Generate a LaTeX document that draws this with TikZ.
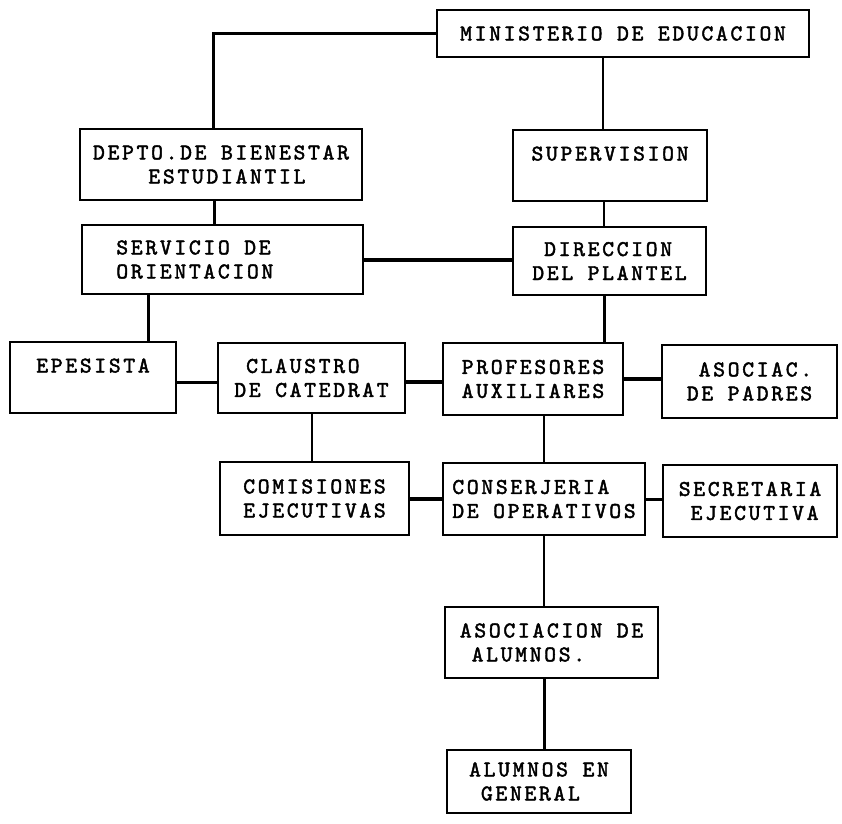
\documentclass[tikz,border=0pt]{standalone}
\usepackage{fontspec}
\newfontfamily\maquina{lmmono10-regular}[Extension=.otf, LetterSpace=12, FakeBold=2]
\begin{document}
\begin{tikzpicture}[x=1pt, y=-1pt,
		caja/.style={draw, line width = 2.2pt, align=left, inner sep=0pt, font=\maquina\fontsize{22.5}{24}\selectfont},
		linea/.style={line width = 2pt},
		media/.style={line width = 3pt},
		gruesa/.style={line width = 4pt}]
		
		\useasboundingbox (0,0) rectangle (842,823);
		
		\node[caja, minimum width=372pt, minimum height=47pt] (ministerio) at (623,33.5) {MINISTERIO DE EDUCACION};
		
		\node[caja, minimum width=282pt, minimum height=71pt] (depto) at (221,164.5) {DEPTO.DE BIENESTAR\\\phantom{DEPT}ESTUDIANTIL};
		\node[caja, minimum width=194pt, minimum height=71pt] (supervision) at (610,165.5) {SUPERVISION\\\mbox{}};
		
		\node[caja, minimum width=281pt, minimum height=69pt] (servicio) at (222.5,259.5) {SERVICIO DE\\ORIENTACION\phantom{XXXX}};
		\node[caja, minimum width=193pt, minimum height=68pt] (direccion) at (609.5,261) {\phantom{D}DIRECCION\\DEL PLANTEL};
		
		\node[caja, minimum width=166pt, minimum height=71pt] (epesista) at (93,377.5) {EPESISTA\\\mbox{}};
		\node[caja, minimum width=187pt, minimum height=70pt] (claustro) at (311.5,378) {\phantom{C}CLAUSTRO\\DE CATEDRAT};
		\node[caja, minimum width=180pt, minimum height=72pt] (profesores) at (533,379) {PROFESORES\\AUXILIARES};
		\node[caja, minimum width=175pt, minimum height=73pt] (padres) at (749.5,381.5) {\phantom{A}ASOCIAC.\\DE PADRES};
		
		\node[caja, minimum width=189pt, minimum height=73pt] (comisiones) at (314.5,498.5) {COMISIONES\\EJECUTIVAS};
		\node[caja, minimum width=202pt, minimum height=72pt] (conserjeria) at (544,499) {CONSERJERIA\\DE OPERATIVOS};
		\node[caja, minimum width=174pt, minimum height=72pt] (secretaria) at (750,501) {SECRETARIA\\\phantom{S}EJECUTIVA};
		
		\node[caja, minimum width=213pt, minimum height=71pt] (asocalumnos) at (551.5,642.5) {ASOCIACION DE\\\phantom{A}ALUMNOS.};
		\node[caja, minimum width=184pt, minimum height=63pt] (alumnos) at (539,781.5) {ALUMNOS EN\\\phantom{A}GENERAL};
		
		
		\draw[media] (ministerio.west) -| ([xshift=-8pt]depto.north);
		\draw[linea] ([xshift=-7pt]supervision.north) -- ([xshift=-7pt]supervision.north |- ministerio.south);
		\draw[media] ([xshift=-7pt]depto.south) -- ([xshift=-7pt]depto.south |- servicio.north);
		\draw[linea] ([xshift=-6pt]supervision.south) -- ([xshift=-6pt]supervision.south |- direccion.north);
		\draw[gruesa] (servicio.east) -- (servicio.east -| direccion.west);
		
		\draw[media] ([xshift=55pt]epesista.north) -- ([xshift=55pt]epesista.north |- servicio.south);
		\draw[media] ([xshift=-5pt]direccion.south) -- ([xshift=-5pt]direccion.south |- profesores.north);
		\draw[media] ([yshift=-5pt]epesista.east) -- ([yshift=-5pt]epesista.east -| claustro.west);
		\draw[gruesa] ([yshift=-4pt]claustro.east) -- ([yshift=-4pt]claustro.east -| profesores.west);
		\draw[gruesa] (profesores.east) -- (profesores.east -| padres.west);
		
		\draw[linea] (claustro.south) -- (claustro.south |- comisiones.north);
		\draw[linea] (conserjeria.north) -- (conserjeria.north |- profesores.south);
		\draw[gruesa] (comisiones.east) -- (comisiones.east -| conserjeria.west);
		\draw[media] (conserjeria.east) -- (conserjeria.east -| secretaria.west);
		
		\draw[linea] (conserjeria.south) -- (conserjeria.south |- asocalumnos.north);
		\draw[media] (conserjeria.south |- asocalumnos.south) -- (conserjeria.south |- alumnos.north);
		
	\end{tikzpicture}
\end{document}
